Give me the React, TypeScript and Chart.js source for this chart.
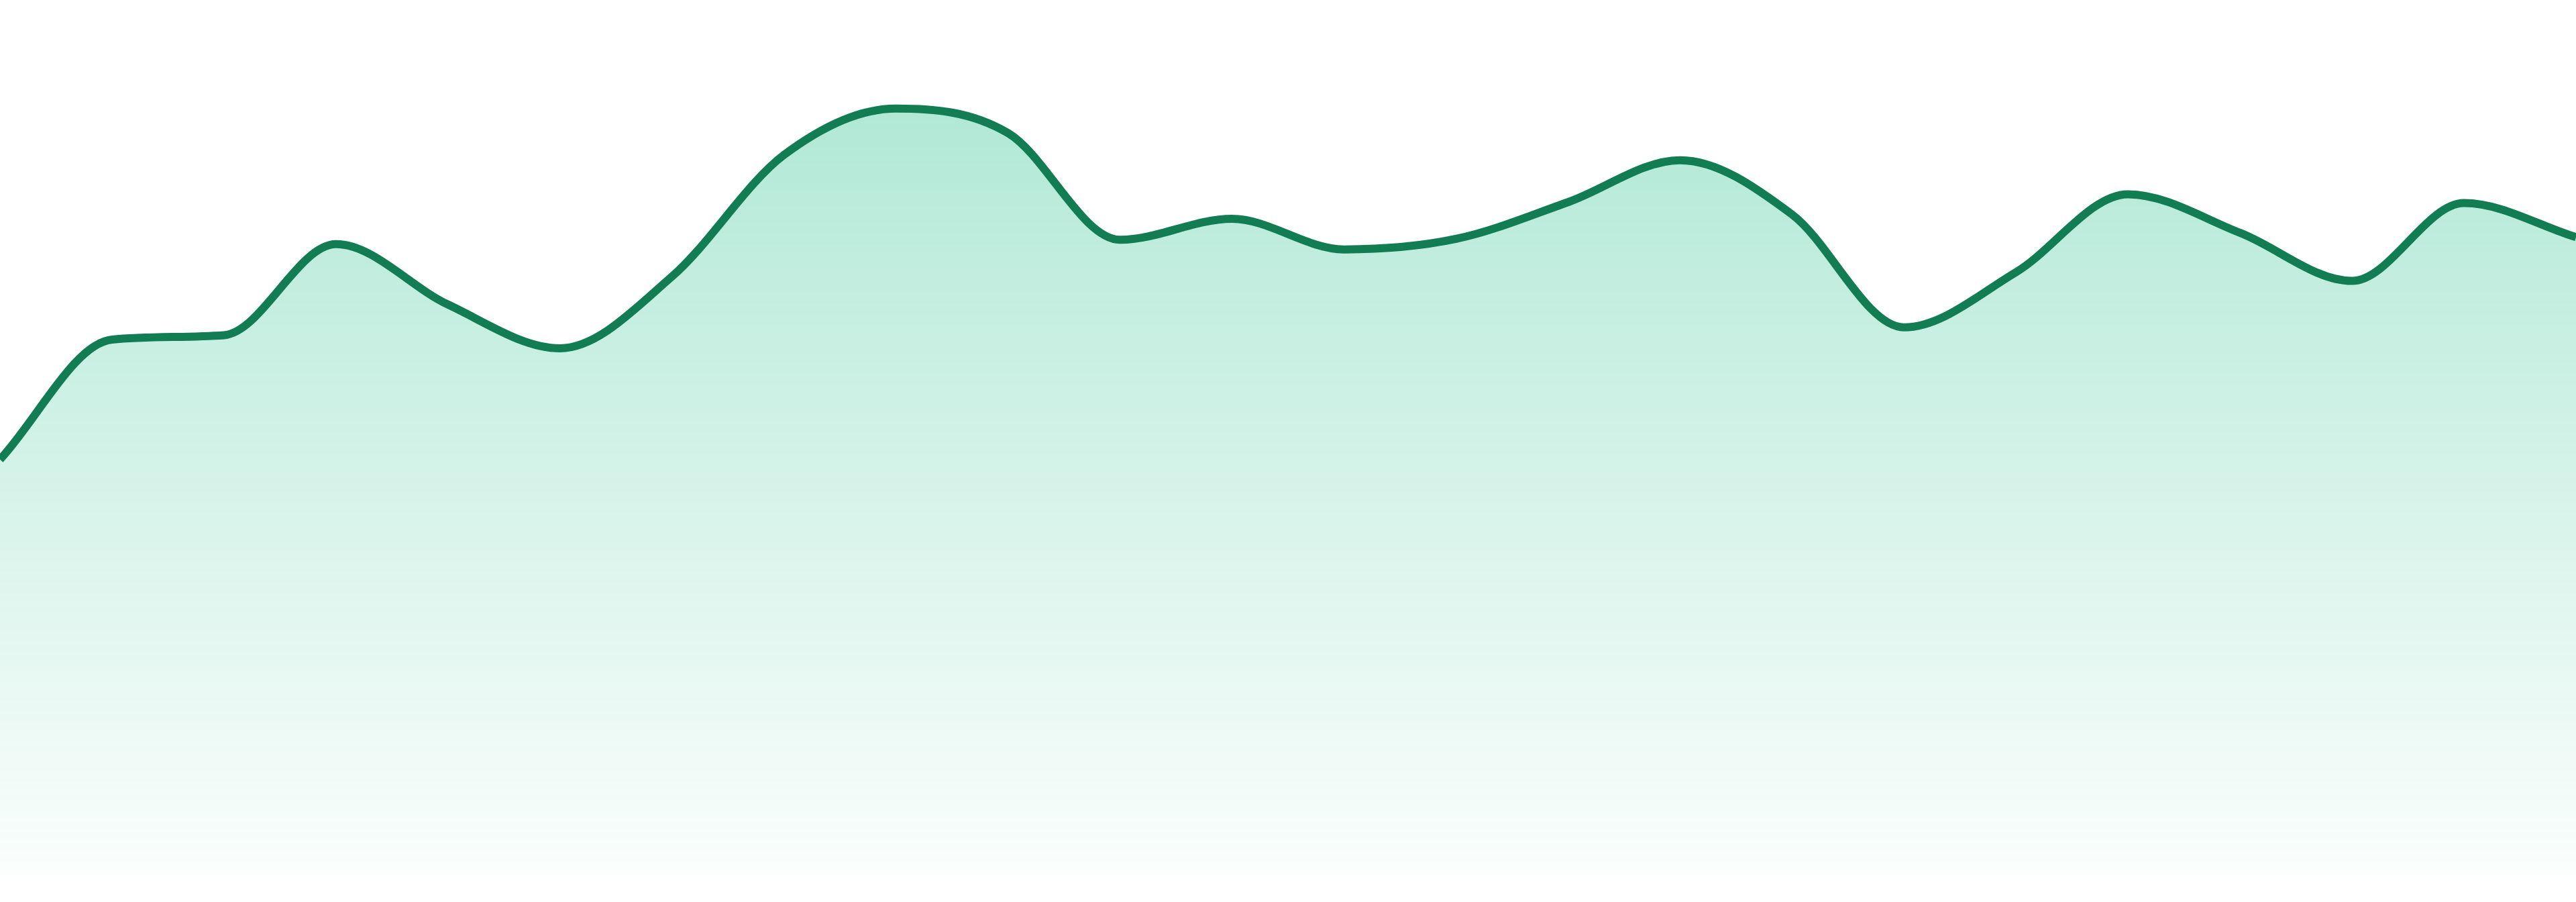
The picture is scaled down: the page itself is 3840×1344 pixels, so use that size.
import React, { useEffect, useRef } from "react";
import { Chart, registerables } from "chart.js";

Chart.register(...registerables);

const labels: string[] = [
  "1", "2", "3", "4", "5", "6", "7", "8", "9", "10", "11", "12",
  "13", "14", "15", "16", "17", "18", "19", "20", "21", "22", "23", "24",
];

const values: number[] = [
  47.5, 61.2, 61.7, 72.1, 65.2, 60.2, 68.4, 82.3, 87.6, 84.8, 72.6, 75.0,
  71.5, 72.7, 76.9, 81.7, 75.5, 62.6, 68.9, 77.8, 73.4, 67.9, 76.8, 72.9,
];

const yMin = 0;
const yMax = 100;

const lineColor = "#127c52";

export default function App() {
  const canvasRef = useRef<HTMLCanvasElement | null>(null);

  useEffect(() => {
    const canvas = canvasRef.current;
    if (!canvas) return;
    const chart = new Chart(canvas, {
      type: "line",
      data: {
        labels,
        datasets: [
          {
            data: values,
            borderColor: lineColor,
            borderWidth: 12,
            pointRadius: 0,
            pointHoverRadius: 0,
            cubicInterpolationMode: "monotone",
            fill: "start",
            backgroundColor: (ctx: any) => {
              const area = ctx.chart.chartArea;
              if (!area) return "rgba(16,185,129,0.2)";
              const g = ctx.chart.ctx.createLinearGradient(0, area.top, 0, area.bottom);
              g.addColorStop(0, "rgba(16,185,129,0.38)");
              g.addColorStop(0.25, "rgba(16,185,129,0.28)");
              g.addColorStop(1, "rgba(16,185,129,0.02)");
              return g;
            },
          },
        ],
      },
      options: {
        animation: false,
        responsive: true,
        maintainAspectRatio: false,
        layout: { padding: 0 },
        plugins: {
          legend: { display: false },
          tooltip: { enabled: false },
          title: { display: false },
        },
        scales: {
          x: { display: false, offset: false },
          y: { display: false, min: yMin, max: yMax },
        },
      },
    });
    return () => chart.destroy();
  }, []);

  return (
    <div
      style={{
        position: "absolute",
        left: 0,
        top: 0,
        width: "3840px",
        height: "1304px",
        background: "#ffffff",
      }}
    >
      <canvas ref={canvasRef} />
    </div>
  );
}
